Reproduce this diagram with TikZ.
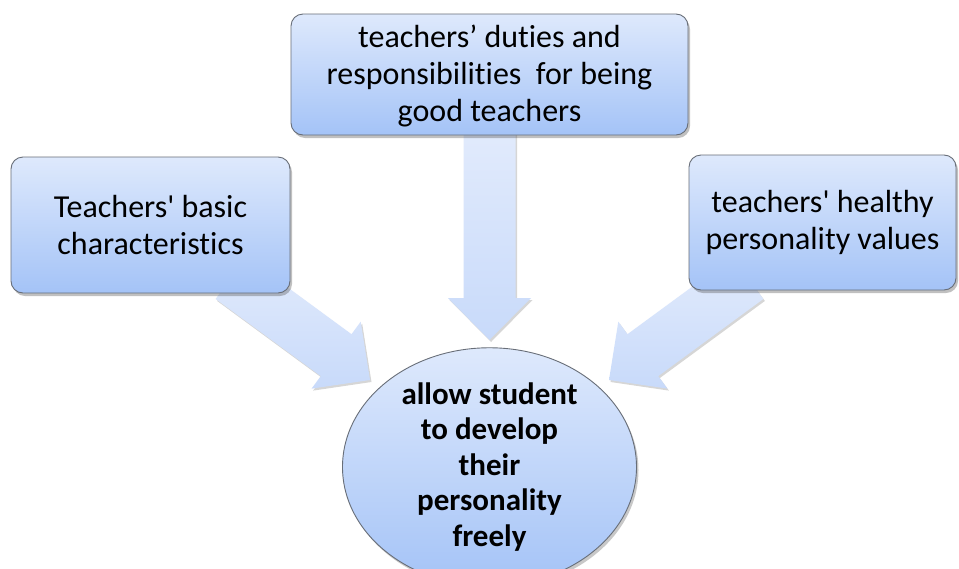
\documentclass[tikz,border=0pt]{standalone}
\usepackage{fontspec}
\setmainfont{Carlito}[Ligatures={TeXOff,NoCommon}]
\usetikzlibrary{calc,shapes.geometric,shadows}

\definecolor{boxtop}{RGB}{222,233,252}
\definecolor{boxbot}{RGB}{164,195,247}
\definecolor{boxline}{RGB}{104,110,120}
\definecolor{arrtop}{RGB}{226,235,252}
\definecolor{arrbot}{RGB}{200,218,250}

% wide block arrow from coordinate #1 (tail) to coordinate #2 (tip)
\newcommand\blockarrow[2]{%
  \coordinate (#1h) at ($(#2)!42pt!(#1)$);
  \path[arrowbody]
    ($(#1)!26pt!90:(#2)$) -- ($(#1h)!26pt!90:(#2)$) -- ($(#1h)!41.5pt!90:(#2)$)
    -- (#2)
    -- ($(#1h)!41.5pt!-90:(#2)$) -- ($(#1h)!26pt!-90:(#2)$) -- ($(#1)!26pt!-90:(#2)$)
    -- cycle;
}

\tikzset{
  arrowbody/.style={top color=arrtop, bottom color=arrbot,
    drop shadow={shadow xshift=1.5pt, shadow yshift=-2pt, opacity=0.16, fill=black}},
  infobox/.style={draw=boxline, line width=0.9pt, rounded corners=12pt,
    top color=boxtop, bottom color=boxbot, inner sep=0pt, align=center,
    font=\fontsize{32}{37}\selectfont,
    drop shadow={shadow xshift=2pt, shadow yshift=-3pt, opacity=0.35, fill=black!70}},
  goal/.style={ellipse, draw=boxline, line width=0.9pt,
    top color=boxtop, bottom color=boxbot, inner sep=0pt, align=center,
    minimum width=294pt, minimum height=198pt,
    font=\fontsize{31}{35.5}\selectfont\bfseries,
    drop shadow={shadow xshift=2pt, shadow yshift=-3pt, opacity=0.3, fill=black!70}}
}

\begin{document}
\begin{tikzpicture}[x=1pt, y=-1pt]
  \fill[white] (0,0) rectangle (959,568);
  \useasboundingbox (0,0) rectangle (959,568);

  % arrow tails sit under the boxes, tips point at the goal
  \coordinate (cs) at (489.5,125);
  \coordinate (ct) at (489.5,340);
  \coordinate (ls) at (231,278);
  \coordinate (lt) at (370,380);
  \coordinate (rs) at (748,278);
  \coordinate (rt) at (609,380);

  \blockarrow{cs}{ct}
  \blockarrow{ls}{lt}
  \blockarrow{rs}{rt}

  \node[infobox, minimum width=397pt, minimum height=121pt] (duties) at (489.5,74.5)
    {\raisebox{-3pt}[\height][\depth]{\begin{tabular}{@{}c@{}}teachers’ duties and\\responsibilities\ \ for being\\good teachers\end{tabular}}};
  \node[infobox, minimum width=279pt, minimum height=136pt] (basic) at (150.5,225)
    {Teachers' basic\\characteristics};
  \node[infobox, minimum width=267pt, minimum height=135pt] (values) at (822.5,222.5)
    {teachers' healthy\\personality values};

  \node[goal] (student) at (489.5,467)
    {allow student\\to develop\\their\\personality\\freely};
\end{tikzpicture}
\end{document}
